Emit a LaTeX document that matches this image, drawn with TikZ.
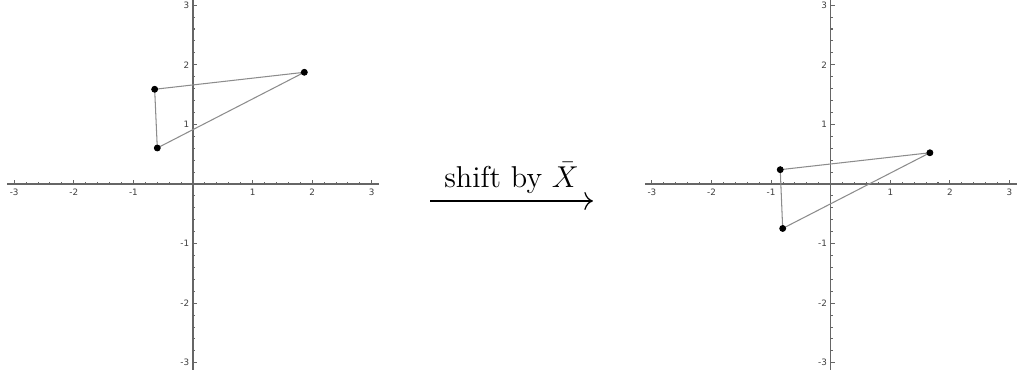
\documentclass[tikz,border=0pt]{standalone}
\usepackage{fontspec}
\usetikzlibrary{arrows.meta}
\newfontfamily\ticksfont{DejaVu Sans}
\tikzset{
  axisline/.style={draw=black!60, line width=0.5pt},
  ticklabel/.style={inner sep=0.5pt, text=black!75, font=\ticksfont\fontsize{4.2}{5}\selectfont},
  edgeline/.style={draw=black!45, line width=0.5pt},
  dot/.style={fill=black}
}
\begin{document}
\begin{tikzpicture}[line width = 0.4pt]
\useasboundingbox (-3.238,-3.238) rectangle (13.842,3.087);
% axes of both plots
\foreach \ox in {0,10.70} {
  \draw [axisline] (\ox-3.12,0) -- (\ox+3.12,0);
  \draw [axisline] (\ox,-3.12) -- (\ox,3.12);
  \foreach \i in {-15,...,-1,1,2,...,15} {
    \draw [axisline] (\ox+\i/5,0) -- ++(0,0.035);
    \draw [axisline] (\ox,\i/5) -- ++(0.035,0);
  }
  \foreach \t in {-3,-2,-1,1,2,3} {
    \draw [axisline] (\ox+\t,0) -- ++(0,0.07);
    \draw [axisline] (\ox,\t) -- ++(0.07,0);
    \node [ticklabel, anchor=north] at (\ox+\t,-0.06) {\t};
    \node [ticklabel, anchor=east] at (\ox-0.04,\t) {\t};
  }
}
% left triangle
\coordinate (a1) at (-0.643,1.589);
\coordinate (b1) at (-0.599,0.604);
\coordinate (c1) at (1.868,1.874);
\draw [edgeline] (a1) -- (b1) -- (c1) -- cycle;
\foreach \p in {a1,b1,c1}
  \filldraw [dot] (\p) circle [radius = 0.05cm];
% right triangle
\coordinate (a2) at (10.70-0.847,0.240);
\coordinate (b2) at (10.70-0.806,-0.746);
\coordinate (c2) at (10.70+1.664,0.524);
\draw [edgeline] (a2) -- (b2) -- (c2) -- cycle;
\foreach \p in {a2,b2,c2}
  \filldraw [dot] (\p) circle [radius = 0.05cm];
% shift arrow
\coordinate (from) at (3.98,-0.285);
\coordinate (to) at (6.71,-0.285);
\draw [-{To[scale=1.4]}, line width=0.6pt] (from) -- node [above, font=\Large] (lbl) {shift by $\bar{X}$} (to);
\end{tikzpicture}
\end{document}
